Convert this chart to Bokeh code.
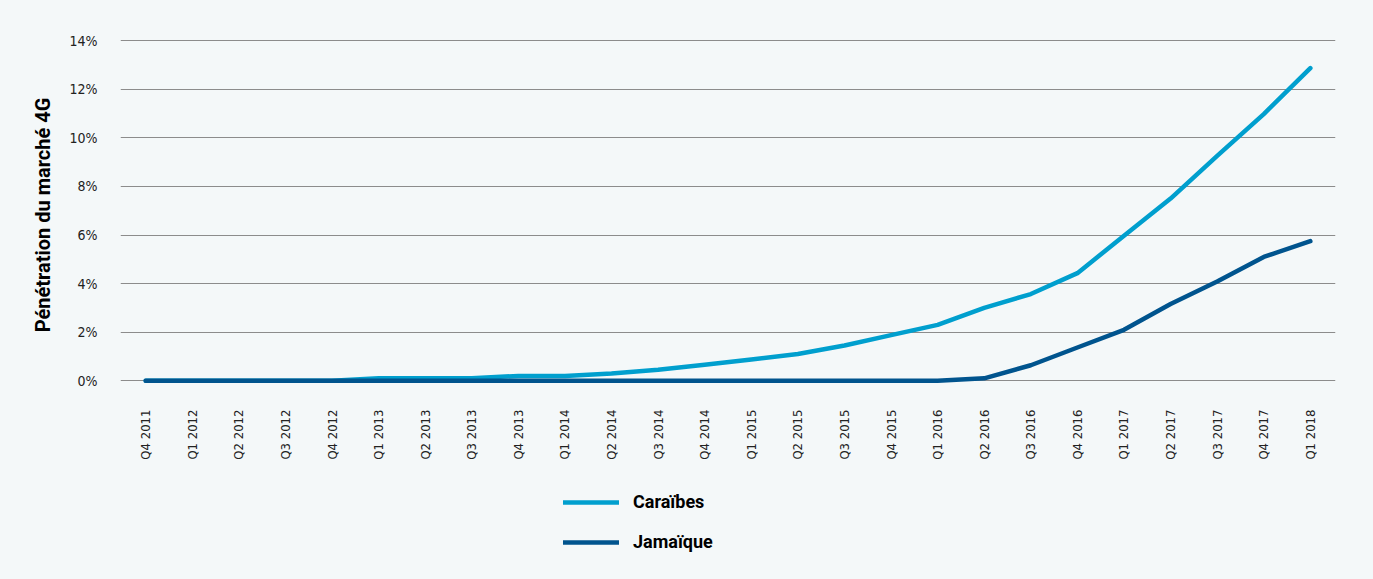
import math
from bokeh.plotting import figure
from bokeh.layouts import column
from bokeh.models import ColumnDataSource, Legend, LegendItem, FixedTicker, Range1d
from bokeh.embed import file_html
from bokeh.resources import INLINE

quarters = ["Q4 2011", "Q1 2012", "Q2 2012", "Q3 2012", "Q4 2012",
            "Q1 2013", "Q2 2013", "Q3 2013", "Q4 2013", "Q1 2014",
            "Q2 2014", "Q3 2014", "Q4 2014", "Q1 2015", "Q2 2015",
            "Q3 2015", "Q4 2015", "Q1 2016", "Q2 2016", "Q3 2016",
            "Q4 2016", "Q1 2017", "Q2 2017", "Q3 2017", "Q4 2017", "Q1 2018"]
caraibes = [0, 0, 0, 0, 0, 0.1, 0.1, 0.1, 0.2, 0.2,
            0.3, 0.45, 0.66, 0.88, 1.1, 1.45, 1.88, 2.3, 3.0, 3.57,
            4.43, 5.97, 7.5, 9.26, 10.98, 12.87]
jamaique = [0, 0, 0, 0, 0, 0, 0, 0, 0, 0,
            0, 0, 0, 0, 0, 0, 0, 0, 0.1, 0.64,
            1.37, 2.1, 3.16, 4.09, 5.1, 5.75]
y_ticks = [0, 2, 4, 6, 8, 10, 12, 14]
series_names = ["Caraïbes", "Jamaïque"]

BG = "#f4f8f9"
C1 = "#009fce"
C2 = "#00548e"
TICK_FONT = "DejaVu Sans Condensed"

x = list(range(len(quarters)))
src = ColumnDataSource(dict(x=x, c=caraibes, j=jamaique))

# ---- main chart ----
p = figure(frame_width=1215, frame_height=351, output_backend="svg", toolbar_location=None,
           x_range=Range1d(-0.54, 25.54), y_range=Range1d(-0.4, 14.05),
           min_border_left=120, min_border_right=38, min_border_top=39,
           min_border_bottom=75)
p.background_fill_color = BG
p.border_fill_color = BG
p.outline_line_color = None

p.line("x", "c", source=src, line_color=C1, line_width=4.5, line_cap="round", line_join="round")
p.line("x", "j", source=src, line_color=C2, line_width=4.5, line_cap="round", line_join="round")

p.xgrid.grid_line_color = None
p.ygrid.grid_line_color = "#8c8c8c"
p.ygrid.grid_line_width = 1.2

p.yaxis.ticker = FixedTicker(ticks=y_ticks)
p.yaxis.major_label_overrides = {t: f"{t}%" for t in y_ticks}
p.xaxis.ticker = FixedTicker(ticks=x)
p.xaxis.major_label_overrides = {i: q for i, q in enumerate(quarters)}
p.xaxis.major_label_orientation = math.pi / 2

for ax in (p.xaxis[0], p.yaxis[0]):
    ax.axis_line_color = None
    ax.major_tick_line_color = None
    ax.minor_tick_line_color = None
    ax.major_label_text_font = TICK_FONT
    ax.major_label_text_color = "#222222"

p.xaxis.major_label_text_font_size = "13px"
p.xaxis.major_label_standoff = 13
p.yaxis.major_label_text_font_size = "14px"
p.yaxis.major_label_standoff = 17

p.yaxis.axis_label = "Pénétration du marché 4G"
p.yaxis.axis_label_text_font = "Roboto"
p.yaxis.axis_label_text_font_style = "bold"
p.yaxis.axis_label_text_font_size = "20px"
p.yaxis.axis_label_text_color = "#000000"
p.yaxis.axis_label_standoff = 12

# ---- legend strip (same series, drawn outside its visible range) ----
lg = figure(width=1373, height=114, output_backend="svg", toolbar_location=None,
            x_range=Range1d(1000, 1001), y_range=Range1d(1000, 1001),
            x_axis_location=None, y_axis_location=None,
            min_border=0, min_border_left=0, min_border_right=0,
            min_border_top=0, min_border_bottom=0)
lg.background_fill_color = BG
lg.border_fill_color = BG
lg.outline_line_color = None
lg.grid.grid_line_color = None
l1 = lg.line("x", "c", source=src, line_color=C1, line_width=4.5, line_cap="round")
l2 = lg.line("x", "j", source=src, line_color=C2, line_width=4.5, line_cap="round")

legend = Legend(items=[LegendItem(label=series_names[0], renderers=[l1]),
                       LegendItem(label=series_names[1], renderers=[l2])],
                location=(443, 27), orientation="vertical")
legend.background_fill_alpha = 0
legend.border_line_color = None
legend.glyph_width = 56
legend.glyph_height = 20
legend.label_standoff = 14
legend.spacing = 19
legend.padding = 0
legend.margin = 0
legend.label_text_font = "Roboto"
legend.label_text_font_style = "bold"
legend.label_text_font_size = "18px"
legend.label_text_color = "#000000"
lg.add_layout(legend, "center")

layout = column(p, lg, spacing=0)
layout.styles = {"background-color": BG}

open("out.html", "w").write(file_html(layout, INLINE))
